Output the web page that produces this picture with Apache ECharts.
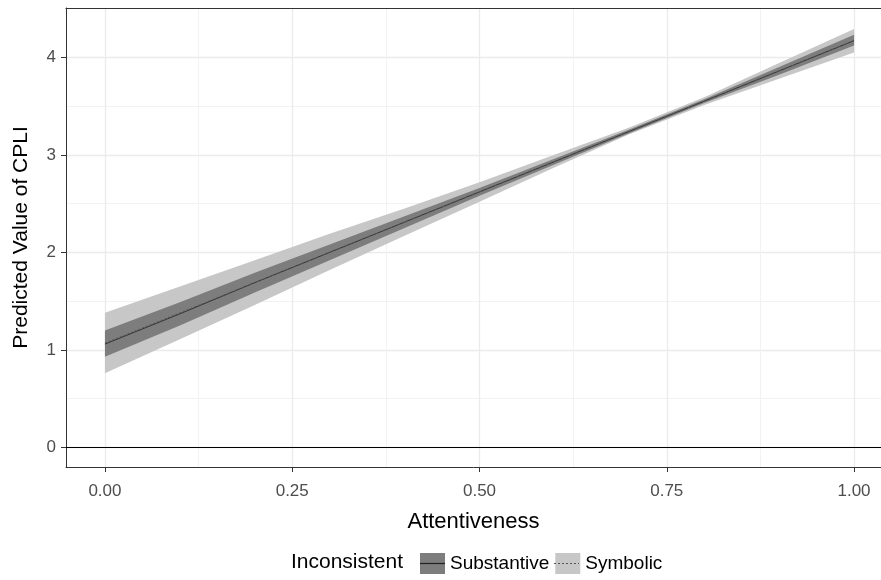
<!DOCTYPE html>
<html>
<head>
<meta charset="utf-8">
<script src="https://cdn.jsdelivr.net/npm/echarts@6/dist/echarts.min.js"></script>
<style>
  html, body { margin: 0; padding: 0; background: #fff; }
  #chart { width: 881px; height: 580px; }
</style>
</head>
<body>
<div id="chart"></div>
<script>
// attentiveness values the ribbons were read at
var attentiveness = [0, 0.1, 0.2, 0.3, 0.4, 0.5, 0.6, 0.7, 0.8, 0.9, 1.0];

// Inconsistent = Substantive
var subFit   = [1.06, 1.37, 1.69, 2.00, 2.31, 2.62, 2.93, 3.24, 3.55, 3.86, 4.17];
var subLower = [0.93, 1.25, 1.59, 1.92, 2.25, 2.58, 2.90, 3.22, 3.53, 3.82, 4.12];
var subUpper = [1.20, 1.49, 1.79, 2.08, 2.37, 2.66, 2.96, 3.26, 3.57, 3.90, 4.23];

// Inconsistent = Symbolic
var symFit   = [1.07, 1.38, 1.69, 2.00, 2.31, 2.62, 2.93, 3.24, 3.55, 3.86, 4.17];
var symLower = [0.76, 1.11, 1.46, 1.82, 2.17, 2.52, 2.87, 3.21, 3.51, 3.78, 4.05];
var symUpper = [1.38, 1.65, 1.92, 2.19, 2.45, 2.72, 3.00, 3.28, 3.59, 3.94, 4.29];

var xTicks = [0, 0.25, 0.5, 0.75, 1];
var xMinor = [0.125, 0.375, 0.625, 0.875];
var yTicks = [0, 1, 2, 3, 4];
var yMinor = [0.5, 1.5, 2.5, 3.5];

var darkFill = '#7d7d7d';
var lightFill = '#c7c7c7';
var font = 'Liberation Sans';

function pairs(ys) {
    return attentiveness.map(function (x, i) { return [x, ys[i]]; });
}
function ribbon(lo, hi) {
    return attentiveness.map(function (x, i) { return [x, lo[i], hi[i]]; });
}

// one polygon per ribbon, built from all rows through the axis scales
function ribbonRenderer(rows, color) {
    return function (params, api) {
        if (params.dataIndex !== 0) return;
        var top = rows.map(function (r) { return api.coord([r[0], r[2]]); });
        var bottom = rows.map(function (r) { return api.coord([r[0], r[1]]); }).reverse();
        return {
            type: 'polygon',
            shape: { points: top.concat(bottom) },
            style: { fill: color }
        };
    };
}

var symRows = ribbon(symLower, symUpper);
var subRows = ribbon(subLower, subUpper);

var chart = echarts.init(document.getElementById('chart'));

var option = {
    animation: false,
    title: {
        text: 'Inconsistent',
        left: 291,
        top: 552,
        padding: 0,
        textStyle: { fontFamily: font, fontSize: 21, fontWeight: 'normal', color: '#000' }
    },
    legend: {
        left: 420,
        top: 553,
        padding: 0,
        itemWidth: 25,
        itemHeight: 21,
        itemGap: 6,
        selectedMode: false,
        textStyle: { fontFamily: font, fontSize: 19, color: '#000' },
        data: [
            { name: 'Substantive', icon: 'rect', itemStyle: { color: darkFill } },
            { name: 'Symbolic', icon: 'rect', itemStyle: { color: lightFill } }
        ]
    },
    grid: {
        left: 66,
        top: 8,
        right: 0,
        bottom: 113,
        show: false
    },
    xAxis: [
        {
            type: 'value',
            min: -0.052,
            max: 1.036,
            name: 'Attentiveness',
            nameLocation: 'middle',
            nameGap: 44,
            nameTextStyle: { fontFamily: font, fontSize: 22, color: '#000' },
            axisLine: { show: true, onZero: false, lineStyle: { color: '#333', width: 1 } },
            axisTick: { show: true, length: 5, lineStyle: { color: '#333' }, customValues: xTicks },
            axisLabel: {
                customValues: xTicks,
                margin: 16,
                fontFamily: font, fontSize: 17, color: '#4d4d4d',
                formatter: function (v) { return v.toFixed(2); }
            },
            splitLine: { show: true, lineStyle: { color: '#ebebeb', width: 1.3 } }
        },
        {
            type: 'value',
            min: -0.052,
            max: 1.036,
            position: 'top',
            axisLine: { show: true, onZero: false, lineStyle: { color: '#333', width: 1.2 } },
            axisTick: { show: false, customValues: xMinor },
            axisLabel: { show: false, customValues: xMinor },
            splitLine: { show: true, lineStyle: { color: '#f2f2f2', width: 1 } }
        }
    ],
    yAxis: [
        {
            type: 'value',
            min: -0.2,
            max: 4.505,
            name: 'Predicted Value of CPLI',
            nameLocation: 'middle',
            nameGap: 34,
            nameTextStyle: { fontFamily: font, fontSize: 21, color: '#000' },
            axisLine: { show: true, onZero: false, lineStyle: { color: '#333', width: 1 } },
            axisTick: { show: true, length: 5, lineStyle: { color: '#333' }, customValues: yTicks },
            axisLabel: {
                customValues: yTicks,
                margin: 10,
                fontFamily: font, fontSize: 17, color: '#4d4d4d'
            },
            splitLine: { show: true, lineStyle: { color: '#ebebeb', width: 1.3 } }
        },
        {
            type: 'value',
            min: -0.2,
            max: 4.505,
            position: 'left',
            axisLine: { show: false, onZero: false },
            axisTick: { show: false, customValues: yMinor },
            axisLabel: { show: false, customValues: yMinor },
            splitLine: { show: true, lineStyle: { color: '#f2f2f2', width: 1 } }
        }
    ],
    series: [
        {
            name: 'Symbolic',
            type: 'custom',
            data: symRows,
            encode: { x: 0, y: [1, 2] },
            itemStyle: { color: lightFill },
            renderItem: ribbonRenderer(symRows, lightFill),
            silent: true,
            z: 2
        },
        {
            name: 'Substantive',
            type: 'custom',
            data: subRows,
            encode: { x: 0, y: [1, 2] },
            itemStyle: { color: darkFill },
            renderItem: ribbonRenderer(subRows, darkFill),
            silent: true,
            z: 3
        },
        {
            name: 'subFit',
            type: 'line',
            data: pairs(subFit),
            symbol: 'none',
            lineStyle: { color: '#333', width: 1 },
            silent: true,
            z: 4
        },
        {
            name: 'symFit',
            type: 'line',
            data: pairs(symFit),
            symbol: 'none',
            lineStyle: { color: '#555', width: 1, type: [2, 2] },
            silent: true,
            z: 5,
            markLine: {
                silent: true,
                symbol: ['none', 'none'],
                label: { show: false },
                lineStyle: { color: '#000', width: 1.2, type: 'solid' },
                data: [{ yAxis: 0 }]
            }
        }
    ],
    graphic: [
        { type: 'line', id: 'k1', shape: { x1: 420, y1: 563.5, x2: 445, y2: 563.5 }, style: { stroke: '#222', lineWidth: 1.2 }, z: 100 },
        { type: 'line', id: 'k2', shape: { x1: 554, y1: 563.5, x2: 579, y2: 563.5 }, style: { stroke: '#555', lineWidth: 1, lineDash: [2, 2] }, z: 100 }
    ]
};

chart.setOption(option);
</script>
</body>
</html>
